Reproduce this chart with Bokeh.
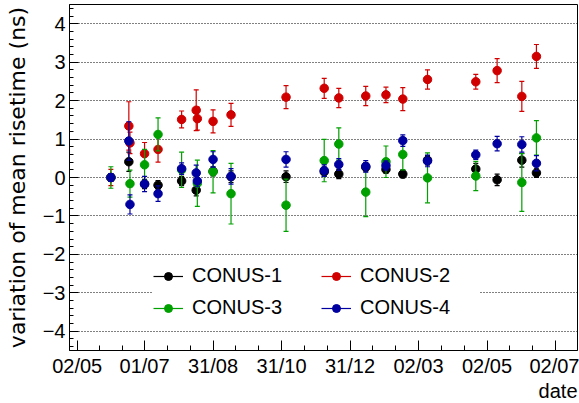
import pandas as pd
from bokeh.plotting import figure
from bokeh.models import (Range1d, FixedTicker, DatetimeTickFormatter, Legend,
                          LegendItem, Title, ColumnDataSource)
from bokeh.embed import file_html
from bokeh.resources import INLINE

# ---------------- data ----------------
tick_dates = ["2018-05-02", "2018-07-01", "2018-08-31", "2018-10-31",
              "2018-12-31", "2019-03-02", "2019-05-02", "2019-07-02"]
x_start = "2018-04-25 03:30"
x_end = "2019-07-21 14:00"
y_ticks = [-4, -3, -2, -1, 0, 1, 2, 3, 4]

c1_dates = ["2018-06-01", "2018-06-17", "2018-07-01", "2018-07-13", "2018-08-03",
            "2018-08-16", "2018-08-31", "2018-09-16", "2018-11-04", "2018-12-08",
            "2018-12-21", "2019-01-14", "2019-02-01", "2019-02-16", "2019-03-10",
            "2019-04-22", "2019-05-11", "2019-06-02", "2019-06-15"]
c1_vals = [0.0, 0.41, -0.17, -0.20, -0.09, -0.33, 0.16, 0.02, 0.02, 0.15,
           0.09, 0.27, 0.21, 0.09, 0.45, 0.22, -0.06, 0.45, 0.12]
c1_errs = [0.10, 0.25, 0.12, 0.12, 0.12, 0.15, 0.12, 0.15, 0.15, 0.12,
           0.12, 0.12, 0.10, 0.10, 0.12, 0.15, 0.15, 0.18, 0.12]

c2_dates = ["2018-06-01", "2018-06-17", "2018-06-18", "2018-07-01", "2018-07-13",
            "2018-08-03", "2018-08-16", "2018-08-17", "2018-08-31", "2018-09-16",
            "2018-11-04", "2018-12-08", "2018-12-21", "2019-01-14", "2019-02-01",
            "2019-02-16", "2019-03-10", "2019-04-22", "2019-05-11", "2019-06-02",
            "2019-06-15"]
c2_vals = [0.0, 1.34, 0.90, 0.62, 0.73, 1.51, 1.75, 1.53, 1.46, 1.63, 2.09,
           2.32, 2.07, 2.12, 2.15, 2.04, 2.55, 2.49, 2.78, 2.11, 3.15]
c2_errs = [0.21, 0.63, 0.28, 0.29, 0.33, 0.22, 0.53, 0.30, 0.30, 0.30, 0.30,
           0.26, 0.25, 0.25, 0.20, 0.30, 0.25, 0.19, 0.31, 0.39, 0.31]

c3_dates = ["2018-06-01", "2018-06-18", "2018-07-01", "2018-07-13", "2018-08-03",
            "2018-08-17", "2018-08-31", "2018-09-16", "2018-11-04", "2018-12-08",
            "2018-12-21", "2019-01-14", "2019-02-01", "2019-02-16", "2019-03-10",
            "2019-04-22", "2019-06-02", "2019-06-15"]
c3_vals = [0.0, -0.16, 0.33, 1.12, 0.20, -0.15, 0.15, -0.42, -0.72, 0.44,
           0.87, -0.38, 0.41, 0.60, -0.01, 0.04, -0.13, 1.03]
c3_errs = [0.28, 0.35, 0.40, 0.43, 0.46, 0.60, 0.55, 0.79, 0.68, 0.55,
           0.42, 0.64, 0.41, 0.40, 0.65, 0.38, 0.75, 0.45]

c4_dates = ["2018-06-01", "2018-06-17", "2018-06-18", "2018-07-01", "2018-07-13",
            "2018-08-03", "2018-08-16", "2018-08-17", "2018-08-31", "2018-09-16",
            "2018-11-04", "2018-12-08", "2018-12-21", "2019-01-14", "2019-02-01",
            "2019-02-16", "2019-03-10", "2019-04-22", "2019-05-11", "2019-06-02",
            "2019-06-15"]
c4_vals = [0.0, 0.95, -0.70, -0.17, -0.42, 0.23, 0.12, -0.09, 0.47, 0.03, 0.47,
           0.18, 0.34, 0.29, 0.31, 0.96, 0.43, 0.59, 0.88, 0.86, 0.37]
c4_errs = [0.10, 0.50, 0.25, 0.20, 0.20, 0.15, 0.20, 0.15, 0.20, 0.20, 0.20,
           0.15, 0.15, 0.15, 0.12, 0.15, 0.15, 0.12, 0.19, 0.20, 0.20]

names = ["CONUS-1", "CONUS-2", "CONUS-3", "CONUS-4"]
colors = ["#000000", "#d00000", "#00a000", "#0000a0"]

# ---------------- figure ----------------
FONT = "Liberation Sans"
EPOCH = pd.Timestamp("1970-01-01")


def to_ms(d):
    return (pd.to_datetime(d) - EPOCH) / pd.Timedelta(milliseconds=1)


p = figure(width=579, height=403, x_axis_type="datetime",
           x_range=Range1d(start=to_ms(x_start), end=to_ms(x_end)),
           y_range=Range1d(start=-4.5, end=4.5),
           output_backend="svg", toolbar_location=None, title=None,
           min_border_left=69, min_border_right=2, min_border_top=4,
           min_border_bottom=53)

p.outline_line_color = "black"
p.outline_line_width = 1
p.background_fill_color = "white"
p.border_fill_color = "white"

# x ticks
tk = [float(v) for v in to_ms(tick_dates)]
minor = []
for a, b in zip(tk[:-1], tk[1:]):
    minor += [a + (b - a) / 3.0, a + 2.0 * (b - a) / 3.0]
p.xaxis.ticker = FixedTicker(ticks=tk, minor_ticks=minor)
fmt = "%d/%m"
p.xaxis.formatter = DatetimeTickFormatter(
    milliseconds=fmt, seconds=fmt, minsec=fmt, minutes=fmt, hourmin=fmt,
    hours=fmt, days=fmt, months=fmt, years=fmt)

# y ticks
y_minor = [round(-4.4 + 0.2 * i, 2) for i in range(45)]
p.yaxis.ticker = FixedTicker(ticks=y_ticks, minor_ticks=y_minor)
p.yaxis.major_label_overrides = {t: (str(t).replace("-", "\u2212")) for t in y_ticks}

for ax in (p.xaxis[0], p.yaxis[0]):
    ax.axis_line_color = "black"
    ax.major_tick_line_color = "black"
    ax.minor_tick_line_color = "black"
    ax.major_tick_out = 0
    ax.minor_tick_out = 0
    ax.major_label_text_font = FONT
    ax.major_label_text_font_size = "20px"
    ax.major_label_text_color = "black"
    ax.major_label_standoff = 4
    ax.axis_label_text_font = FONT
    ax.axis_label_text_font_style = "normal"
    ax.axis_label_text_color = "black"

p.xaxis.major_tick_in = 10
p.xaxis.minor_tick_in = 5
p.yaxis.major_tick_in = 9
p.yaxis.minor_tick_in = 4

p.yaxis.axis_label = "variation of mean risetime (ns)"
p.yaxis.axis_label_text_font = "DejaVu Sans"
p.yaxis.axis_label_text_font_size = "22px"
p.yaxis.axis_label_standoff = 10

p.xgrid.grid_line_color = None
p.ygrid.grid_line_color = "black"
p.ygrid.grid_line_dash = "1 2"
p.ygrid.grid_line_width = 1

# ---------------- series ----------------
series = [
    (c1_dates, c1_vals, c1_errs),
    (c2_dates, c2_vals, c2_errs),
    (c3_dates, c3_vals, c3_errs),
    (c4_dates, c4_vals, c4_errs),
]
items = []
for name, color, (dates, vals, errs) in zip(names, colors, series):
    src = ColumnDataSource(dict(
        x=to_ms(dates).values,
        y=vals,
        lo=[v - e for v, e in zip(vals, errs)],
        hi=[v + e for v, e in zip(vals, errs)],
    ))
    seg = p.segment(x0="x", y0="lo", x1="x", y1="hi", source=src,
                    line_color=color, line_width=1.2)
    p.scatter(x="x", y="hi", source=src, marker="dash", size=5,
              line_color=color, line_width=1.2)
    p.scatter(x="x", y="lo", source=src, marker="dash", size=5,
              line_color=color, line_width=1.2)
    dots = p.scatter(x="x", y="y", source=src, marker="circle", size=8.5,
                     fill_color=color, line_color=color)
    items.append(LegendItem(label=name, renderers=[seg, dots]))

legend = Legend(items=items, orientation="horizontal", ncols=2,
                location=(84, 31), border_line_color=None,
                background_fill_color="white", background_fill_alpha=1.0,
                label_text_font=FONT, label_text_font_size="20px",
                label_text_color="black", glyph_width=30, glyph_height=20,
                label_width=120, label_height=20, label_standoff=9,
                spacing=9, padding=6, margin=0)
p.add_layout(legend)

xtitle = Title(text="date", align="right", text_font=FONT,
               text_font_size="20px", text_font_style="normal",
               text_color="black", standoff=-4)
p.add_layout(xtitle, "below")

open("out.html", "w").write(file_html(p, INLINE))
